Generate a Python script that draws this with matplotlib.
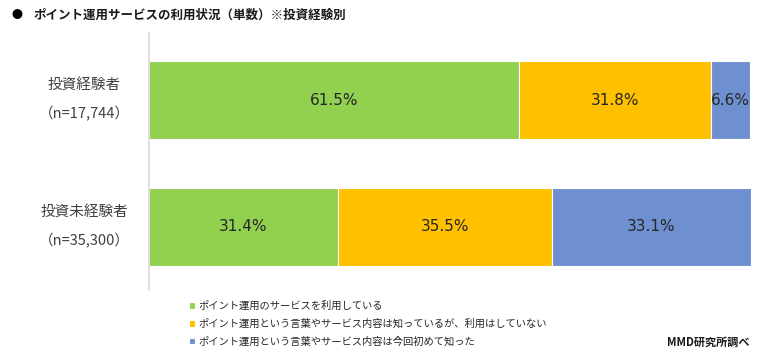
import numpy as np
import matplotlib.pyplot as plt
import matplotlib.transforms as mtransforms

plt.rcParams['font.family'] = ['Noto Sans CJK JP', 'DejaVu Sans']

# data
groups = ["投資経験者\n（n=17,744）", "投資未経験者\n（n=35,300）"]
series_names = [
    "ポイント運用のサービスを利用している",
    "ポイント運用という言葉やサービス内容は知っているが、利用はしていない",
    "ポイント運用という言葉やサービス内容は今回初めて知った",
]
used = [61.5, 31.4]
known_not_used = [31.8, 35.5]
first_time = [6.6, 33.1]
colors = ["#92D050", "#FFC000", "#6E90D1"]

fig = plt.figure(figsize=(7.7, 3.56), dpi=100)
ax = fig.add_axes([149 / 770, 1 - 290 / 356, (751 - 149) / 770, (290 - 33) / 356])

y = np.arange(len(groups))
left = np.zeros(len(groups))
for vals, col, name in zip([used, known_not_used, first_time], colors, series_names):
    bars = ax.barh(y, vals, left=left, height=0.617, color=col, edgecolor="white",
                   linewidth=0.8, label=name)
    for b, v in zip(bars, vals):
        ax.text(b.get_x() + b.get_width() / 2, b.get_y() + b.get_height() / 2,
                f"{v:.1f}%", ha="center", va="center", fontsize=11,
                family="DejaVu Sans", color="#262626")
    left += np.array(vals)

ax.set_xlim(0, 100)
ax.set_ylim(1.5, -0.53)
ax.set_yticks(y)
ax.set_yticklabels([])
ax.tick_params(axis="y", length=0)
ax.set_xticks([])

# category labels, centred left of the axis
trans = mtransforms.blended_transform_factory(ax.transAxes, ax.transData)
for yi, g in zip(y, groups):
    ax.text(-0.108, yi, g, transform=trans, ha="center", va="center",
            fontsize=10.5, color="#404040", linespacing=2.1)

for s in ["top", "right", "bottom"]:
    ax.spines[s].set_visible(False)
ax.spines["left"].set_color("#D9D9D9")
ax.spines["left"].set_linewidth(1.2)

fig.text(12 / 770, 1 - 15 / 356, "●", fontsize=8, va="center", ha="left", color="black")
fig.text(33 / 770, 1 - 15 / 356, "ポイント運用サービスの利用状況（単数）※投資経験別",
         fontsize=9, fontweight="bold", va="center", ha="left", color="#1a1a1a")

fig.legend(loc="upper left", bbox_to_anchor=(184 / 770, 1 - 296 / 356), frameon=False,
           fontsize=7.4, handlelength=0.6, handleheight=0.6, handletextpad=0.3,
           labelspacing=0.72, borderpad=0, labelcolor="#262626")

fig.text(750 / 770, 1 - 342 / 356, "MMD研究所調べ", fontsize=8, fontweight="bold",
         ha="right", va="center", color="#1a1a1a")

fig.savefig("out.png", dpi=100)
